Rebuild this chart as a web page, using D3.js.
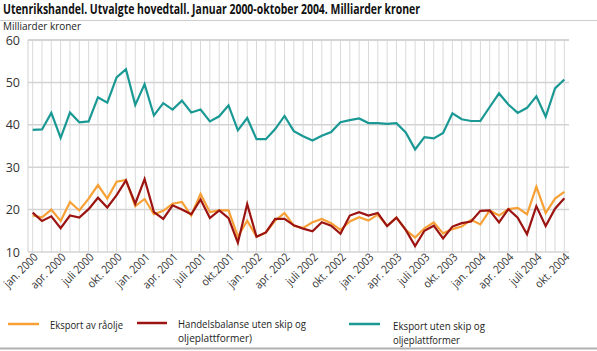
<!DOCTYPE html>
<html><head><meta charset="utf-8">
<script src="https://cdn.jsdelivr.net/npm/d3@7"></script>
<style>body{margin:0;background:#fff}svg{display:block}text{font-family:"Open Sans",sans-serif}</style>
</head><body><svg id="c" width="597" height="351"></svg>
<script>
const years = [2000, 2001, 2002, 2003, 2004];
const monthNames = ["jan.","feb.","mar.","apr.","mai","juni","juli","aug.","sep.","okt.","nov.","des."];
const categories = [];
years.forEach(y => monthNames.forEach((m, k) => { if (y < 2004 || k <= 9) categories.push(m + " " + y); }));
const tickLabels = ["jan. 2000","apr. 2000","juli 2000","okt. 2000","jan. 2001","apr. 2001","juli 2001","okt.2001","jan. 2002","apr. 2002","juli 2002","okt. 2002","jan. 2003","apr. 2003","juli 2003","okt. 2003","jan. 2004","apr. 2004","juli 2004","okt. 2004"];
const yTicks = [10, 20, 30, 40, 50, 60];

const raolje = [18.6,18.2,20.0,17.3,21.8,19.8,22.6,25.8,22.6,26.6,27.0,20.8,22.5,18.9,19.7,21.4,21.8,18.6,23.7,19.4,19.8,19.8,13.6,17.4,13.6,14.6,17.4,19.2,16.2,15.7,17.0,17.8,16.8,15.2,17.2,18.2,17.4,18.8,16.2,18.1,15.2,13.4,15.6,17.0,14.4,15.4,16.0,17.6,16.5,19.8,18.6,20.1,20.4,18.9,25.4,19.2,22.6,24.2];
const handelsbalanse = [19.3,17.3,18.4,15.6,18.6,18.1,20.1,22.8,20.5,23.4,26.9,21.4,27.2,19.4,17.8,21.0,20.0,18.9,22.4,18.0,19.8,18.0,12.2,21.3,13.6,14.6,17.8,17.8,16.3,15.5,14.9,17.0,16.2,14.3,18.6,19.4,18.6,19.2,16.1,18.1,15.2,11.4,15.0,16.2,13.2,16.0,16.8,17.2,19.7,19.8,17.0,20.1,18.1,14.2,20.8,16.1,20.2,22.7];
const eksportUten = [38.8,38.9,42.8,36.9,42.9,40.6,40.8,46.5,45.2,51.2,53.1,44.7,49.6,42.2,45.1,43.6,45.7,42.9,43.6,40.8,42.0,44.6,38.7,41.6,36.6,36.6,39.0,42.1,38.5,37.3,36.3,37.4,38.3,40.6,41.1,41.5,40.4,40.4,40.2,40.4,38.2,34.2,37.1,36.8,38.1,42.7,41.3,40.9,40.9,44.2,47.4,44.8,42.8,44.0,46.7,41.9,48.6,50.7];

const seriesNames = ["Eksport av råolje", "Handelsbalanse uten skip og|oljeplattformer)", "Eksport uten skip og|oljeplattformer"];
const seriesColors = ["#f7a035", "#9b1412", "#1a9994"];
const seriesData = [raolje, handelsbalanse, eksportUten];

const svg = d3.select("#c");
const L = 28, R = 569, T = 40, B = 252;
const x = d3.scalePoint().domain(categories).range([L, R]).padding(0.5);
const y = d3.scaleLinear().domain([10, 60]).range([B, T]);

function fit(sel, w) { sel.attr("textLength", w).attr("lengthAdjust", "spacingAndGlyphs"); }

// title
fit(svg.append("text").attr("x", 3).attr("y", 14).attr("font-size", 14).attr("font-weight", "bold").attr("fill", "#111")
  .text("Utenrikshandel. Utvalgte hovedtall. Januar 2000-oktober 2004. Milliarder kroner"), 417);
svg.append("line").attr("x1", 0).attr("x2", 597).attr("y1", 20.5).attr("y2", 20.5).attr("stroke", "#cfcfcf");
fit(svg.append("text").attr("x", 3).attr("y", 30).attr("font-size", 10.5).attr("fill", "#222").text("Milliarder kroner"), 78);

// grid
const g = svg.append("g");
g.selectAll(".vg").data(categories).join("line")
  .attr("x1", d => x(d)).attr("x2", d => x(d)).attr("y1", T).attr("y2", B)
  .attr("stroke", "#d9d9d9").attr("stroke-width", 1);
g.append("line").attr("x1", L).attr("x2", L).attr("y1", T).attr("y2", B).attr("stroke", "#d0d0d0");
g.selectAll(".hg").data(yTicks).join("line")
  .attr("x1", L).attr("x2", R).attr("y1", d => y(d)).attr("y2", d => y(d))
  .attr("stroke", "#d4d4d4").attr("stroke-width", d => d === 60 ? 2 : 1.5);

// y labels
svg.selectAll(".yl").data(yTicks).join("text")
  .attr("x", 20).attr("y", d => y(d)).attr("dy", "0.36em").attr("text-anchor", "end")
  .attr("font-size", 12.5).attr("fill", "#333").text(d => d);

// x labels
const tickIdx = tickLabels.map((t, i) => i * 3);
svg.selectAll(".xl").data(tickIdx).join("text")
  .attr("transform", i => `translate(${x(categories[i]) + 6},${B + 6}) rotate(-45)`)
  .attr("text-anchor", "end").attr("font-size", 11.5).attr("fill", "#333")
  .text((i, k) => tickLabels[k])
  .each(function () { const w = this.getComputedTextLength(); fit(d3.select(this), w * 0.88); });

// lines
const line = d3.line().x((d, i) => x(categories[i])).y(d => y(d));
seriesData.forEach((s, k) => {
  svg.append("path").datum(s).attr("d", line).attr("fill", "none")
    .attr("stroke", seriesColors[k]).attr("stroke-width", 2.2).attr("stroke-linejoin", "miter");
});

// legend
const leg = [
  {x1: 8, x2: 39, ly: 324, tx: 50, ty: 328.5, widths: [73]},
  {x1: 137, x2: 167, ly: 323, tx: 178, ty: 327.5, widths: [128, 74]},
  {x1: 349, x2: 380, ly: 324, tx: 393, ty: 330, widths: [92, 67]}
];
leg.forEach((l, k) => {
  svg.append("line").attr("x1", l.x1).attr("x2", l.x2).attr("y1", l.ly).attr("y2", l.ly)
    .attr("stroke", seriesColors[k]).attr("stroke-width", 2.5);
  const t = svg.append("text").attr("x", l.tx).attr("y", l.ty)
    .attr("font-family", "'Liberation Sans', Arial, sans-serif").attr("font-size", 11.4).attr("fill", "#222");
  seriesNames[k].split("|").forEach((s, j) => {
    fit(t.append("tspan").attr("x", l.tx).attr("y", l.ty + j * 14.3).text(s), l.widths[j]);
  });
});
svg.append("line").attr("x1", 0).attr("x2", 597).attr("y1", 348.5).attr("y2", 348.5).attr("stroke", "#b0b0b0").attr("stroke-width", 2);
</script></body></html>
